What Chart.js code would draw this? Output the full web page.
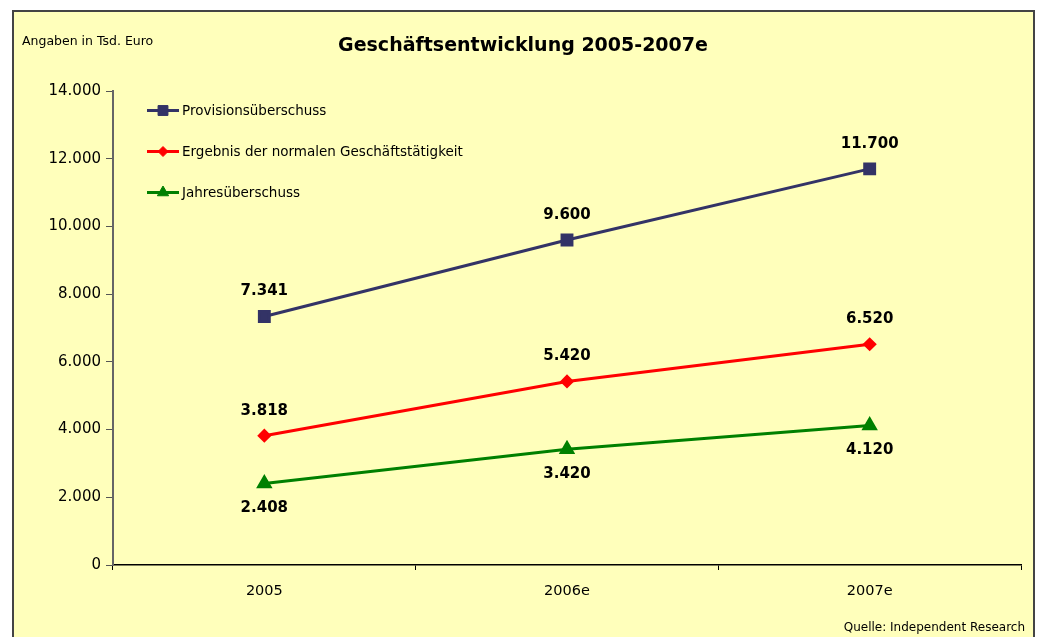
<!DOCTYPE html>
<html>
<head>
<meta charset="utf-8">
<script src="https://cdn.jsdelivr.net/npm/chart.js@4/dist/chart.umd.min.js"></script>
<style>
  html, body { margin: 0; padding: 0; background: #fff; overflow: hidden; }
  #frame { position: absolute; left: 12px; top: 10px; width: 1019px; height: 640px;
           background: #ffffbb; border: 2px solid #444; }
  #wrap { position: absolute; left: 0; top: 0; width: 1039px; height: 637px; }
</style>
</head>
<body>
<div id="frame"></div>
<div id="wrap"><canvas id="chart" width="1039" height="637"></canvas></div>
<script>
// Geschäftsentwicklung 2005-2007e — values in Tsd. Euro
const CATEGORIES = ['2005', '2006e', '2007e'];
const PROVISION = [7341, 9600, 11700];
const ERGEBNIS = [3818, 5420, 6520];
const JAHRES = [2408, 3420, 4120];
const SERIES_NAMES = ['Provisionsüberschuss', 'Ergebnis der normalen Geschäftstätigkeit', 'Jahresüberschuss'];
const Y_MAX = 14000, Y_STEP = 2000;

const FONT = '"DejaVu Sans", sans-serif';
const fmt = v => v.toLocaleString('de-DE');

// value labels: above the point, or below for the last series
const valueLabels = {
  id: 'valueLabels',
  afterDatasetsDraw(chart){
    const ctx = chart.ctx;
    ctx.save();
    ctx.font = 'bold 15px ' + FONT;
    ctx.fillStyle = '#000';
    ctx.textAlign = 'center';
    ctx.textBaseline = 'middle';
    chart.data.datasets.forEach((ds, i) => {
      const meta = chart.getDatasetMeta(i);
      meta.data.forEach((pt, j) => {
        const dy = ds.labelBelow ? 25 : -25;
        ctx.fillText(fmt(ds.data[j]), pt.x, pt.y + dy);
      });
    });
    ctx.restore();
  }
};

// legend drawn inside the plot, plus the frame texts
const extras = {
  id: 'extras',
  afterDraw(chart){
    const ctx = chart.ctx;
    ctx.save();
    chart.data.datasets.forEach((ds, i) => {
      const y = 110.5 + i * 41;
      ctx.strokeStyle = ds.borderColor;
      ctx.lineWidth = 3;
      ctx.beginPath(); ctx.moveTo(147, y); ctx.lineTo(179, y); ctx.stroke();
      ctx.fillStyle = ds.borderColor;
      ctx.lineWidth = 1;
      Chart.helpers.drawPoint(ctx, {pointStyle: ds.pointStyle, radius: ds.pointRadius, borderWidth: 1}, 163, y);
      ctx.fillStyle = '#000';
      ctx.font = '13.5px ' + FONT;
      ctx.textAlign = 'left'; ctx.textBaseline = 'middle';
      ctx.fillText(ds.label, 182, y + 1);
    });
    ctx.fillStyle = '#000';
    ctx.font = '12.5px ' + FONT;
    ctx.textAlign = 'left'; ctx.textBaseline = 'middle';
    ctx.fillText('Angaben in Tsd. Euro', 22, 42);
    ctx.font = 'bold 19px ' + FONT;
    ctx.textAlign = 'center';
    ctx.fillText('Geschäftsentwicklung 2005-2007e', 523, 46.5);
    ctx.font = '12px ' + FONT;
    ctx.textAlign = 'right';
    ctx.fillText('Quelle: Independent Research', 1025, 628);
    ctx.restore();
  }
};

new Chart(document.getElementById('chart'), {
  type: 'line',
  data: {
    labels: CATEGORIES,
    datasets: [
      {label: SERIES_NAMES[0], data: PROVISION, borderColor: '#333366', backgroundColor: '#333366',
       pointStyle: 'rect', pointRadius: 7, borderWidth: 3},
      {label: SERIES_NAMES[1], data: ERGEBNIS, borderColor: '#ff0000', backgroundColor: '#ff0000',
       pointStyle: 'rectRot', pointRadius: 5, borderWidth: 3},
      {label: SERIES_NAMES[2], data: JAHRES, borderColor: '#008000', backgroundColor: '#008000',
       pointStyle: 'triangle', pointRadius: 6.5, borderWidth: 3, labelBelow: true}
    ]
  },
  options: {
    responsive: false,
    animation: false,
    layout: {padding: {left: 0, right: 18, top: 91, bottom: 0}},
    plugins: {legend: {display: false}, tooltip: {enabled: false}, title: {display: false}},
    elements: {line: {tension: 0}, point: {borderWidth: 1}},
    scales: {
      x: {
        offset: true,
        grid: {display: true, drawOnChartArea: false, drawTicks: true, tickLength: 5, offset: true, color: '#000'},
        border: {color: '#000', width: 1.5},
        ticks: {color: '#000', font: {family: FONT, size: 14.5}, padding: 13},
        afterFit(s){ s.height = 72; }
      },
      y: {
        min: 0, max: Y_MAX,
        grid: {display: true, drawOnChartArea: false, drawTicks: true, tickLength: 7, color: '#555'},
        border: {color: '#666', width: 2},
        ticks: {stepSize: Y_STEP, color: '#000', font: {family: FONT, size: 15}, padding: 5,
                callback: v => fmt(v)},
        afterFit(s){ s.width = 113; }
      }
    }
  },
  plugins: [valueLabels, extras]
});
</script>
</body>
</html>
